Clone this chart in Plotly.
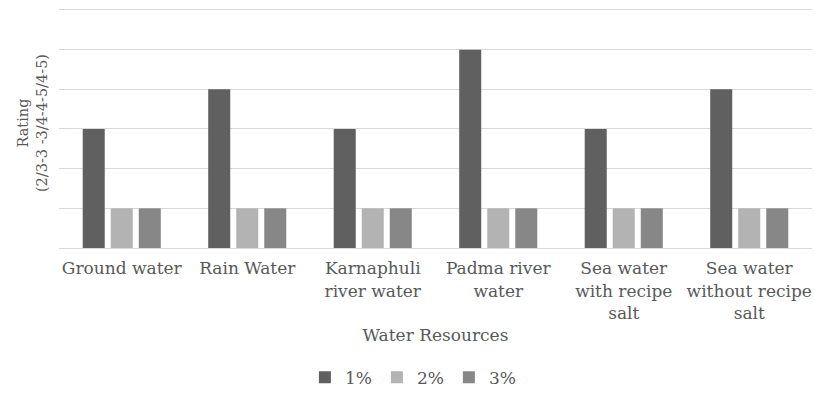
import plotly.graph_objects as go

# Water sources on the x axis (line breaks wrap the long names)
categories = [
    "Ground water",
    "Rain Water",
    "Karnaphuli<br>river water",
    "Padma river<br>water",
    "Sea water<br>with recipe<br>salt",
    "Sea water<br>without recipe<br>salt",
]

# Rating for each concentration
series_names = ["1%", "2%", "3%"]
rating_1pct = [3, 4, 3, 5, 3, 4]
rating_2pct = [1, 1, 1, 1, 1, 1]
rating_3pct = [1, 1, 1, 1, 1, 1]
series_values = [rating_1pct, rating_2pct, rating_3pct]
series_colors = ["#606060", "#b3b3b3", "#878787"]

FONT = "DejaVu Serif, serif"
TEXT = "#595959"

fig = go.Figure()
for name, vals, col in zip(series_names, series_values, series_colors):
    fig.add_trace(go.Bar(x=categories, y=vals, name=name,
                         marker=dict(color=col, line=dict(width=0))))

fig.update_layout(
    width=815, height=396,
    margin=dict(l=59, r=3, t=8, b=148, autoexpand=False),
    paper_bgcolor="white", plot_bgcolor="white",
    barmode="group", bargap=0.33, bargroupgap=0.214,
    font=dict(family=FONT, color=TEXT, size=17),
    showlegend=True,
    legend=dict(orientation="h", x=0.47, xanchor="center", y=-0.54, yanchor="middle",
                font=dict(family=FONT, size=17, color=TEXT),
                itemwidth=30, traceorder="normal"),
    xaxis=dict(
        automargin=False,
        tickfont=dict(family=FONT, size=17, color=TEXT),
        ticklabelstandoff=5,
        showline=True, linecolor="#d9d9d9", linewidth=1,
        ticks="", title=dict(text="Water Resources", standoff=7,
                             font=dict(family=FONT, size=17, color=TEXT)),
    ),
    yaxis=dict(
        range=[0, 6.05], dtick=1, showticklabels=False,
        showgrid=True, gridcolor="#d9d9d9", gridwidth=1,
        zeroline=False, showline=False, ticks="",
    ),
)

# Two-line rotated y-axis title
fig.add_annotation(
    text="Rating<br>(2/3-3 -3/4-4-5/4-5)", textangle=-90,
    xref="paper", yref="paper", x=-0.036, y=0.52,
    xanchor="center", yanchor="middle", showarrow=False,
    font=dict(family=FONT, size=14.5, color=TEXT),
)

fig.write_html("out.html")
